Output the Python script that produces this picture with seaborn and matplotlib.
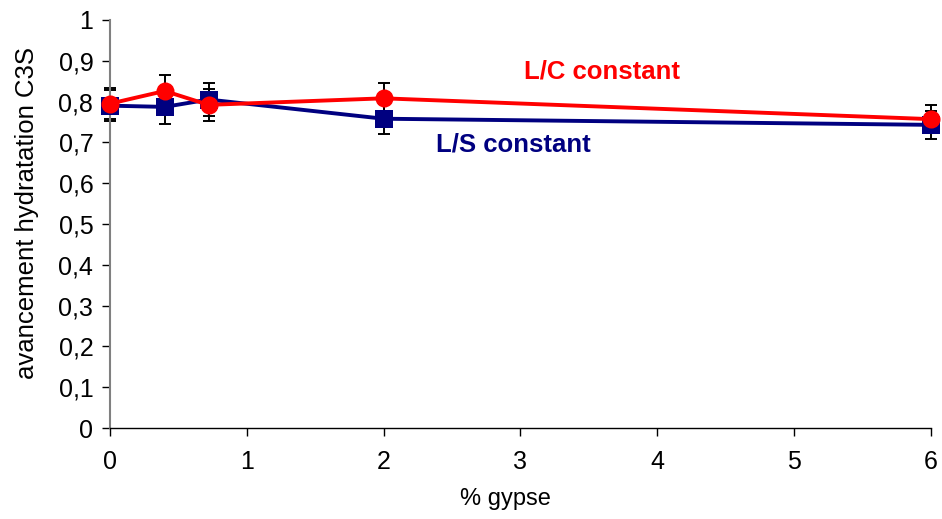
import numpy as np
import pandas as pd
import matplotlib
matplotlib.use("Agg")
import matplotlib.pyplot as plt
import seaborn as sns
from matplotlib.ticker import FuncFormatter, MultipleLocator

# values
gypse_ls = [0, 0.4, 0.72, 2, 6]
avanc_ls = [0.79, 0.787, 0.805, 0.758, 0.743]
err_ls = [0.038, 0.042, 0.04, 0.037, 0.035]

gypse_lc = [0, 0.4, 0.72, 2, 6]
avanc_lc = [0.795, 0.826, 0.792, 0.808, 0.757]
err_lc = [0.038, 0.04, 0.04, 0.037, 0.035]

df = pd.concat([
    pd.DataFrame({"gypse": gypse_ls, "avancement": avanc_ls, "serie": "L/S constant"}),
    pd.DataFrame({"gypse": gypse_lc, "avancement": avanc_lc, "serie": "L/C constant"}),
])


def virgule(v, pos):
    if abs(v - round(v)) < 1e-9:
        return f"{int(round(v))}"
    return f"{v:.1f}".replace(".", ",")


sns.set_style("white")
plt.rcParams['font.family'] = ['Liberation Sans', 'DejaVu Sans']
plt.rcParams['axes.labelcolor'] = 'black'
plt.rcParams['text.color'] = 'black'

fig = plt.figure(figsize=(9.42, 5.19), dpi=100)
ax = fig.add_axes([0.1168, 0.1753, 0.8712, 0.7862])

# error bars
for xs, ys, es in [(gypse_ls, avanc_ls, err_ls), (gypse_lc, avanc_lc, err_lc)]:
    eb = ax.errorbar(xs, ys, yerr=es, fmt='none', ecolor='black',
                     elinewidth=1.4, capsize=4.5, capthick=1.4, zorder=1)
    for art in eb.lines[1] + eb.lines[2]:
        art.set_clip_on(False)

sns.lineplot(data=df, x="gypse", y="avancement", hue="serie", style="serie",
             palette={"L/S constant": "#000080", "L/C constant": "#FF0000"},
             markers={"L/S constant": "s", "L/C constant": "o"},
             dashes=False, markersize=13, markeredgewidth=0, linewidth=2.8,
             legend=False, ax=ax, zorder=3)
for ln in ax.lines:
    ln.set_clip_on(False)

ax.text(3.6, 0.874, "L/C constant", color="#FF0000", fontsize=18.5,
        fontweight="bold", ha="center", va="center")
ax.text(2.95, 0.694, "L/S constant", color="#000080", fontsize=18.5,
        fontweight="bold", ha="center", va="center")

ax.set_xlim(0, 6)
ax.set_ylim(0, 1)
ax.xaxis.set_major_locator(MultipleLocator(1))
ax.yaxis.set_major_locator(MultipleLocator(0.1))
ax.yaxis.set_major_formatter(FuncFormatter(virgule))

for side in ["top", "right"]:
    ax.spines[side].set_visible(False)
ax.spines["left"].set_color("#808080")
ax.spines["left"].set_linewidth(1.5)
ax.spines["bottom"].set_color("black")
ax.spines["bottom"].set_linewidth(1.0)

ax.tick_params(axis="both", direction="out", length=6, width=1.0, colors="black",
               labelsize=18, bottom=True, left=True)
ax.tick_params(axis="y", pad=6)
ax.tick_params(axis="x", pad=10)

ax.set_xlabel("% gypse", fontsize=17, color="black")
ax.set_ylabel("avancement hydratation C3S", fontsize=18.5, color="black")
ax.yaxis.set_label_coords(-0.087, 0.527)
ax.xaxis.set_label_coords(0.482, -0.147)

fig.savefig("out.png", dpi=100)
